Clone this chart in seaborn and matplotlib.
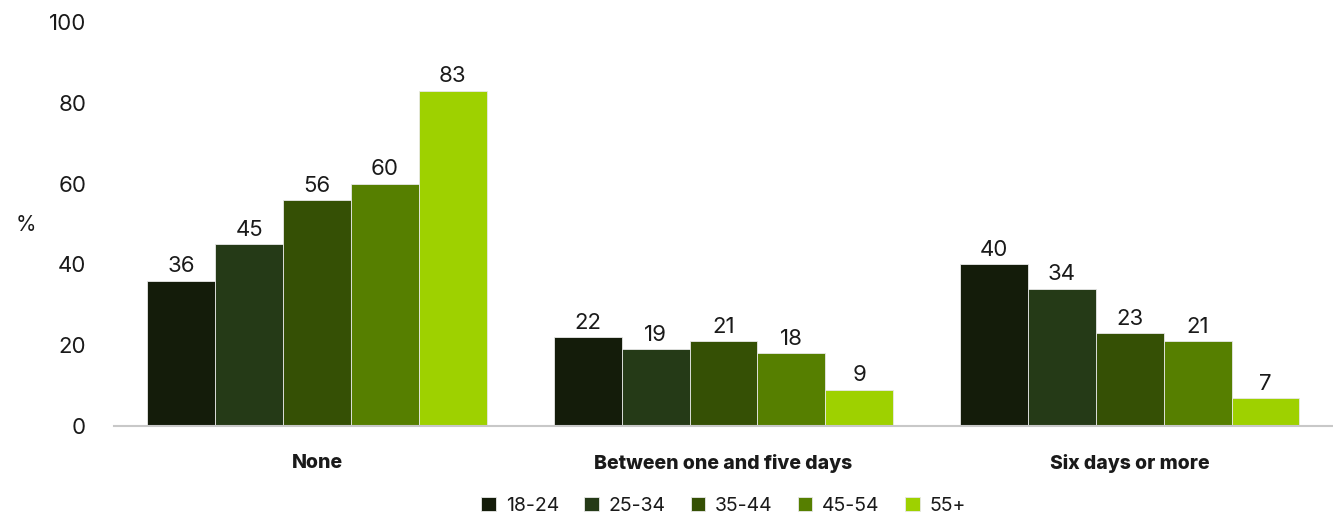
import pandas as pd
import matplotlib.pyplot as plt
import seaborn as sns

sns.set_theme(style="white")
plt.rcParams['font.family'] = ['Inter', 'DejaVu Sans']

categorias = ["None", "Between one and five days", "Six days or more"]
faixas = ["18-24", "25-34", "35-44", "45-54", "55+"]
valores = {
    "18-24": [36, 22, 40],
    "25-34": [45, 19, 34],
    "35-44": [56, 21, 23],
    "45-54": [60, 18, 21],
    "55+": [83, 9, 7],
}
cores = ["#141c0a", "#253a17", "#355005", "#567f00", "#9ed100"]

linhas = []
for faixa in faixas:
    for cat, v in zip(categorias, valores[faixa]):
        linhas.append({"cat": cat, "faixa": faixa, "valor": v})
df = pd.DataFrame(linhas)

fig = plt.figure(figsize=(13.33, 5.18), dpi=100)
ax = fig.add_axes([0.0855, 0.1776, 0.9145, 0.78])

sns.barplot(data=df, x="cat", y="valor", hue="faixa", order=categorias,
            hue_order=faixas, palette=cores, width=0.835, ax=ax,
            edgecolor="#e8e8e8", linewidth=0.6, saturation=1)

for cont in ax.containers:
    ax.bar_label(cont, fmt="%d", padding=3, fontsize=16, color="#1a1a1a")

ax.set_ylim(0, 100)
ax.set_xlim(-0.5, 2.5)
ax.set_yticks([0, 20, 40, 60, 80, 100])
ax.tick_params(axis="y", labelsize=16, colors="#1a1a1a", length=0, pad=20)
ax.tick_params(axis="x", labelsize=14, length=0, pad=20)
for lbl in ax.get_xticklabels():
    lbl.set_fontweight("heavy")
    lbl.set_color("#1a1a1a")

for s in ["top", "right", "left"]:
    ax.spines[s].set_visible(False)
ax.spines["bottom"].set_color("#c8c8c8")
ax.spines["bottom"].set_linewidth(1.5)

ax.set_xlabel("")
ax.set_ylabel("")
fig.text(0.012, 0.565, "%", fontsize=15, color="#1a1a1a", va="center")

leg = ax.legend(loc="center", bbox_to_anchor=(0.5, -0.198), ncol=5,
                frameon=False, fontsize=14, handlelength=0.75, handleheight=0.75,
                handletextpad=0.5, columnspacing=1.3)
for t in leg.get_texts():
    t.set_color("#1a1a1a")

fig.savefig("out.png", dpi=100)
